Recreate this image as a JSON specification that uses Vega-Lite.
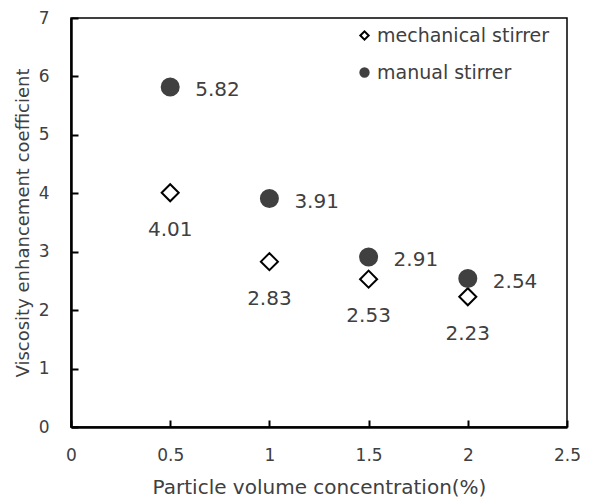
{
  "$schema": "https://vega.github.io/schema/vega-lite/v6.json",
  "width": 496,
  "height": 409,
  "autosize": {"type": "none"},
  "padding": {"left": 71, "top": 18, "right": 25, "bottom": 74},
  "background": "white",
  "config": {
    "font": "DejaVu Sans",
    "view": {"stroke": "black", "strokeWidth": 1.5},
    "axis": {
      "grid": false,
      "domainColor": "black",
      "domainWidth": 2.5,
      "tickColor": "black",
      "tickWidth": 2,
      "labelFlush": false,
      "labelFont": "DejaVu Sans",
      "labelFontSize": 17,
      "labelColor": "#404040",
      "titleFont": "DejaVu Sans",
      "titleFontSize": 20,
      "titleFontWeight": "normal",
      "titleColor": "#404040"
    }
  },
  "data": {
    "values": [
      {"conc": 0.5, "value": 4.01, "series": "mechanical stirrer", "label": "4.01"},
      {"conc": 1.0, "value": 2.83, "series": "mechanical stirrer", "label": "2.83"},
      {"conc": 1.5, "value": 2.53, "series": "mechanical stirrer", "label": "2.53"},
      {"conc": 2.0, "value": 2.23, "series": "mechanical stirrer", "label": "2.23"},
      {"conc": 0.5, "value": 5.82, "series": "manual stirrer", "label": "5.82"},
      {"conc": 1.0, "value": 3.91, "series": "manual stirrer", "label": "3.91"},
      {"conc": 1.5, "value": 2.91, "series": "manual stirrer", "label": "2.91"},
      {"conc": 2.0, "value": 2.54, "series": "manual stirrer", "label": "2.54"}
    ]
  },
  "layer": [
    {
      "encoding": {
        "x": {
          "field": "conc",
          "type": "quantitative",
          "scale": {"domain": [0, 2.5], "nice": false},
          "axis": {
            "orient": "bottom",
            "title": "Particle volume concentration(%)",
            "values": [0, 0.5, 1, 1.5, 2, 2.5],
            "format": "~g",
            "ticks": false,
            "labelPadding": 20,
            "titlePadding": 14
          }
        },
        "y": {
          "field": "value",
          "type": "quantitative",
          "scale": {"domain": [0, 7], "nice": false},
          "axis": {
            "orient": "left",
            "title": "Viscosity enhancement coefficient",
            "titleFontSize": 18,
            "values": [0, 1, 2, 3, 4, 5, 6, 7],
            "ticks": false,
            "labelPadding": 22,
            "titlePadding": 6
          }
        }
      },
      "layer": [
        {
          "mark": {"type": "point", "filled": true, "size": 290, "strokeWidth": 2, "opacity": 1},
          "encoding": {
            "shape": {
              "field": "series",
              "type": "nominal",
              "scale": {"domain": ["mechanical stirrer", "manual stirrer"], "range": ["diamond", "circle"]},
              "legend": {
                "title": null,
                "orient": "none",
                "legendX": 284,
                "legendY": 8,
                "labelFont": "DejaVu Sans",
                "labelFontSize": 19,
                "labelColor": "#404040",
                "labelOffset": 3,
                "labelLimit": 400,
                "symbolSize": 70,
                "symbolStrokeWidth": 2,
                "rowPadding": 17
              }
            },
            "fill": {
              "field": "series",
              "type": "nominal",
              "scale": {"domain": ["mechanical stirrer", "manual stirrer"], "range": ["white", "#404040"]},
              "legend": null
            },
            "stroke": {
              "field": "series",
              "type": "nominal",
              "scale": {"domain": ["mechanical stirrer", "manual stirrer"], "range": ["black", "#404040"]},
              "legend": null
            }
          }
        },
        {
          "transform": [{"filter": "datum.series === 'manual stirrer'"}],
          "mark": {"type": "text", "align": "left", "baseline": "middle", "dx": 25, "dy": 3, "fontSize": 20, "color": "#404040", "font": "DejaVu Sans"},
          "encoding": {"text": {"field": "label"}}
        },
        {
          "transform": [{"filter": "datum.series === 'mechanical stirrer'"}],
          "mark": {"type": "text", "align": "center", "baseline": "middle", "dx": 0, "dy": 37, "fontSize": 20, "color": "#404040", "font": "DejaVu Sans"},
          "encoding": {"text": {"field": "label"}}
        }
      ]
    },
    {
      "mark": {"type": "point", "opacity": 0},
      "encoding": {
        "x": {
          "field": "conc",
          "type": "quantitative",
          "scale": {"domain": [0, 2.5], "nice": false},
          "axis": {
            "orient": "bottom",
            "title": null,
            "values": [0, 0.5, 1, 1.5, 2, 2.5],
            "domain": false,
            "labels": false,
            "ticks": true,
            "tickSize": 7,
            "offset": -7
          }
        },
        "y": {
          "field": "value",
          "type": "quantitative",
          "scale": {"domain": [0, 7], "nice": false},
          "axis": {
            "orient": "left",
            "title": null,
            "values": [0, 1, 2, 3, 4, 5, 6, 7],
            "domain": false,
            "labels": false,
            "ticks": true,
            "tickSize": 7,
            "offset": -7
          }
        }
      }
    }
  ],
  "resolve": {"axis": {"x": "independent", "y": "independent"}}
}
